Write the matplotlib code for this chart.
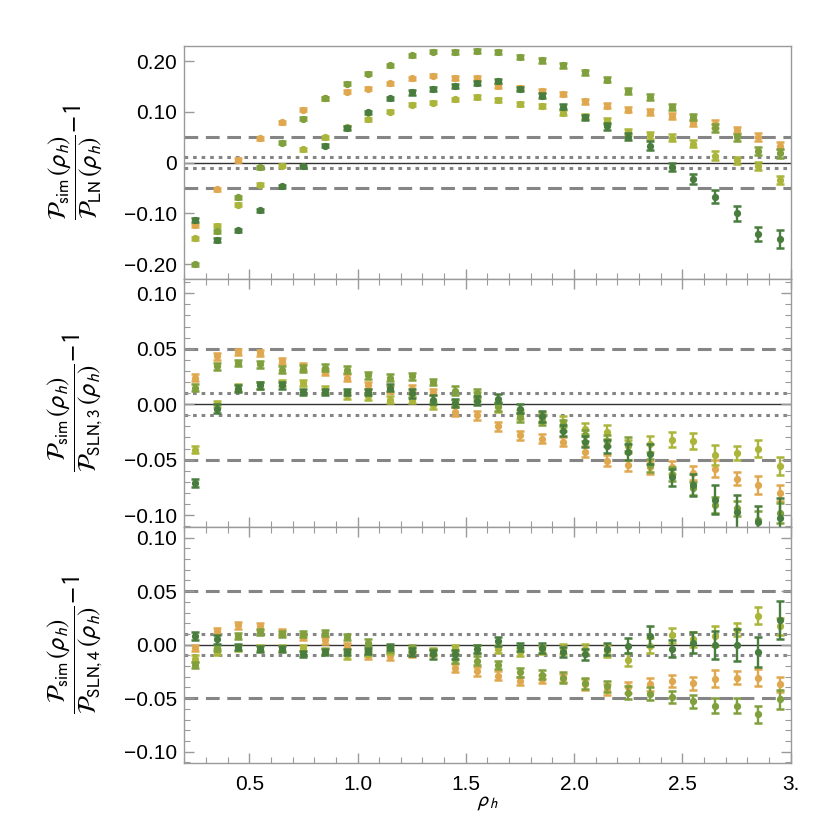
import matplotlib
matplotlib.use('Agg')
import matplotlib.pyplot as plt
from matplotlib.ticker import MultipleLocator

plt.rcParams['font.family'] = ['Liberation Sans', 'DejaVu Sans']
plt.rcParams['mathtext.fontset'] = 'stixsans'

rho = [0.25, 0.35, 0.45, 0.55, 0.65, 0.75, 0.85, 0.95, 1.05, 1.15, 1.25, 1.35, 1.45, 1.55,
       1.65, 1.75, 1.85, 1.95, 2.05, 2.15, 2.25, 2.35, 2.45, 2.55, 2.65, 2.75, 2.85, 2.95]

series_names = ['orange', 'light green', 'medium green', 'dark green']
series_colors = ['#E0A84E', '#AAB53A', '#7FA03C', '#497D3E']

# Panel 1: P_sim / P_LN - 1
ln_orange = [-0.124, -0.053, 0.005, 0.048, 0.079, 0.104, 0.127, 0.139, 0.145, 0.156, 0.166, 0.171, 0.167, 0.166,
             0.151, 0.147, 0.140, 0.135, 0.121, 0.112, 0.104, 0.100, 0.092, 0.078, 0.076, 0.064, 0.051, 0.033]
ln_light = [-0.149, -0.125, -0.083, -0.044, -0.006, 0.026, 0.050, 0.069, 0.085, 0.100, 0.114, 0.118, 0.125, 0.129,
            0.123, 0.115, 0.112, 0.098, 0.090, 0.082, 0.061, 0.054, 0.049, 0.037, 0.013, 0.004, -0.007, -0.034]
ln_medium = [-0.200, -0.135, -0.068, -0.009, 0.039, 0.086, 0.127, 0.155, 0.175, 0.192, 0.211, 0.218, 0.218, 0.220,
             0.217, 0.207, 0.201, 0.192, 0.178, 0.163, 0.141, 0.129, 0.110, 0.089, 0.068, 0.050, 0.023, 0.018]
ln_dark = [-0.113, -0.153, -0.133, -0.094, -0.047, -0.007, 0.033, 0.068, 0.099, 0.127, 0.138, 0.145, 0.151, 0.156,
           0.161, 0.145, 0.132, 0.110, 0.089, 0.071, 0.051, 0.033, -0.008, -0.033, -0.067, -0.100, -0.141, -0.150]

# Panel 2: P_sim / P_SLN,3 - 1
sln3_orange = [0.024, 0.043, 0.047, 0.046, 0.039, 0.034, 0.029, 0.024, 0.017, 0.013, 0.014, 0.011, -0.007, -0.010,
               -0.020, -0.028, -0.031, -0.034, -0.043, -0.051, -0.055, -0.057, -0.057, -0.062, -0.058, -0.067, -0.073, -0.080]
sln3_light = [-0.041, 0.000, 0.015, 0.017, 0.019, 0.019, 0.013, 0.008, 0.007, 0.004, 0.004, -0.001, 0.001, 0.007,
              -0.003, -0.009, -0.012, -0.016, -0.022, -0.025, -0.038, -0.036, -0.032, -0.033, -0.046, -0.044, -0.040, -0.056]
sln3_medium = [0.015, 0.034, 0.037, 0.036, 0.031, 0.032, 0.033, 0.031, 0.026, 0.024, 0.025, 0.020, 0.012, 0.010,
               -0.002, -0.012, -0.015, -0.019, -0.028, -0.033, -0.036, -0.055, -0.063, -0.076, -0.091, -0.094, -0.104, -0.098]
sln3_dark = [-0.071, -0.004, 0.014, 0.017, 0.017, 0.011, 0.011, 0.011, 0.011, 0.015, 0.010, 0.004, 0.001, 0.003,
             0.005, -0.004, -0.011, -0.024, -0.034, -0.038, -0.043, -0.045, -0.066, -0.073, -0.086, -0.097, -0.106, -0.103]

# Panel 3: P_sim / P_SLN,4 - 1
sln4_orange = [-0.003, 0.013, 0.018, 0.017, 0.012, 0.007, 0.004, -0.001, -0.010, -0.011, -0.009, -0.008, -0.022, -0.025,
               -0.029, -0.034, -0.032, -0.031, -0.037, -0.042, -0.040, -0.037, -0.034, -0.036, -0.032, -0.031, -0.031, -0.037]
sln4_light = [-0.013, -0.007, -0.003, -0.003, -0.003, -0.003, -0.006, -0.010, -0.008, -0.006, -0.005, -0.006, -0.003, -0.004,
              -0.004, -0.007, -0.005, -0.004, -0.004, -0.006, -0.014, -0.001, 0.009, 0.005, 0.008, 0.014, 0.027, 0.017]
sln4_medium = [-0.019, -0.003, 0.008, 0.012, 0.010, 0.010, 0.011, 0.007, 0.002, -0.004, -0.003, -0.007, -0.013, -0.015,
               -0.019, -0.026, -0.028, -0.031, -0.036, -0.039, -0.045, -0.046, -0.049, -0.053, -0.057, -0.057, -0.065, -0.051]
sln4_dark = [0.008, 0.005, -0.002, -0.004, -0.004, -0.009, -0.007, -0.007, -0.006, -0.002, -0.007, -0.009, -0.009, -0.004,
             0.003, -0.002, -0.003, -0.007, -0.009, -0.004, -0.001, 0.008, -0.004, 0.002, 0.000, 0.000, -0.007, 0.023]

# error bar half-widths (per series)
err_orange = [0.003, 0.003, 0.003, 0.003, 0.003, 0.003, 0.003, 0.003, 0.003, 0.003, 0.003, 0.003, 0.004, 0.004,
              0.004, 0.004, 0.004, 0.004, 0.005, 0.005, 0.005, 0.006, 0.006, 0.006, 0.008, 0.006, 0.008, 0.007]
err_light = [0.003, 0.003, 0.003, 0.003, 0.003, 0.003, 0.003, 0.003, 0.003, 0.003, 0.003, 0.003, 0.003, 0.004,
             0.004, 0.004, 0.004, 0.005, 0.005, 0.006, 0.006, 0.007, 0.007, 0.007, 0.009, 0.006, 0.008, 0.008]
err_medium = [0.003, 0.003, 0.003, 0.003, 0.003, 0.003, 0.003, 0.003, 0.003, 0.003, 0.003, 0.003, 0.004, 0.004,
              0.004, 0.004, 0.004, 0.005, 0.005, 0.005, 0.006, 0.006, 0.006, 0.006, 0.007, 0.007, 0.008, 0.009]
err_dark = [0.004, 0.004, 0.003, 0.003, 0.003, 0.003, 0.003, 0.003, 0.003, 0.003, 0.004, 0.004, 0.004, 0.004,
            0.004, 0.004, 0.005, 0.005, 0.005, 0.006, 0.007, 0.009, 0.008, 0.010, 0.013, 0.015, 0.014, 0.018]

panels = [
    ([ln_orange, ln_light, ln_medium, ln_dark], r'$\dfrac{\mathcal{P}_{\mathrm{sim}}\,(\rho_h)}{\mathcal{P}_{\mathrm{LN}}\,(\rho_h)}\!-\!1$'),
    ([sln3_orange, sln3_light, sln3_medium, sln3_dark], r'$\dfrac{\mathcal{P}_{\mathrm{sim}}\,(\rho_h)}{\mathcal{P}_{\mathrm{SLN,3}}\,(\rho_h)}\!-\!1$'),
    ([sln4_orange, sln4_light, sln4_medium, sln4_dark], r'$\dfrac{\mathcal{P}_{\mathrm{sim}}\,(\rho_h)}{\mathcal{P}_{\mathrm{SLN,4}}\,(\rho_h)}\!-\!1$'),
]
errors = [err_orange, err_light, err_medium, err_dark]

ylims = [(-0.2295, 0.2295), (-0.1107, 0.1128), (-0.1106, 0.110)]
yticks = [[-0.2, -0.1, 0.0, 0.1, 0.2], [-0.1, -0.05, 0.0, 0.05, 0.1], [-0.1, -0.05, 0.0, 0.05, 0.1]]
yticklabels = [['\u22120.20', '\u22120.10', '0', '0.10', '0.20'],
               ['\u22120.10', '\u22120.05', '0.00', '0.05', '0.10'],
               ['\u22120.10', '\u22120.05', '0.00', '0.05', '0.10']]
xticks = [0.5, 1.0, 1.5, 2.0, 2.5, 3.0]
xticklabels = ['0.5', '1.0', '1.5', '2.0', '2.5', '3.']

fig = plt.figure(figsize=(8.3, 8.4), dpi=100)
gs = fig.add_gridspec(3, 1, height_ratios=[233, 248, 236], hspace=0,
                      left=0.222, right=0.9526, top=0.9452, bottom=0.0917)

frame_c = '#9a9a9a'
ref_c = '#858585'
for i, (vals, lab) in enumerate(panels):
    ax = fig.add_subplot(gs[i])
    ax.set_xlim(0.2, 3.0)
    ax.set_ylim(*ylims[i])
    ax.axhline(0, color='#333333', lw=1.0, zorder=1)
    for v in (0.05, -0.05):
        ax.axhline(v, color=ref_c, lw=2.2, ls=(0, (4.5, 2.5)), zorder=1)
    for v in (0.01, -0.01):
        ax.axhline(v, color=ref_c, lw=2.2, ls=(0, (1.2, 1.6)), zorder=1)
    for s, (y, e, c) in enumerate(zip(vals, errors, series_colors)):
        line, caps, bars = ax.errorbar(rho, y, yerr=e, fmt='o', color=c, ms=4.2,
                                       elinewidth=1.7, capsize=3.0, capthick=1.8,
                                       zorder=3 + s)
        line.set_markeredgewidth(1.0)
        for cp in caps:
            cp.set_markeredgewidth(1.8)
            cp.set_zorder(3.5 + s)
    ax.set_yticks(yticks[i])
    ax.set_yticklabels(yticklabels[i])
    ax.set_xticks(xticks)
    if i == 2:
        ax.set_xticklabels(xticklabels)
        ax.set_xlabel(r'$\rho_h$', fontsize=15, labelpad=-1)
    else:
        ax.set_xticklabels([])
    ax.xaxis.set_minor_locator(MultipleLocator(0.1))
    if i > 0:
        ax.yaxis.set_minor_locator(MultipleLocator(0.01))
    for sp in ax.spines.values():
        sp.set_color(frame_c)
        sp.set_linewidth(1.0)
    top = i > 0
    right = i > 0
    ax.tick_params(which='both', direction='in', colors=frame_c, labelcolor='black',
                   top=top, right=right, labelsize=15)
    ax.tick_params(which='major', length=7, width=1.0, pad=5)
    ax.tick_params(which='minor', length=4, width=0.8)
    ax.tick_params(axis='x', pad=9)
    ax.set_ylabel(lab, fontsize=18, rotation=90)
    ax.yaxis.set_label_coords(-0.13, 0.5)

fig.savefig('out.png', dpi=100)
